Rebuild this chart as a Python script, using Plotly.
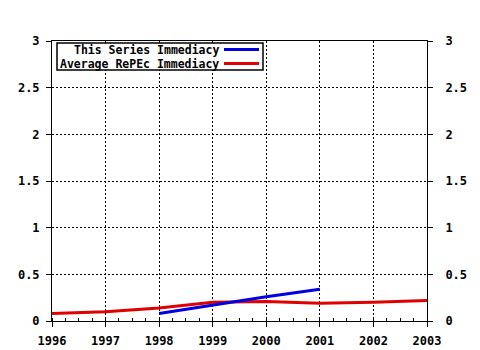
import plotly.graph_objects as go

years = [1996, 1997, 1998, 1999, 2000, 2001, 2002, 2003]
avg_repec = [0.08, 0.10, 0.14, 0.20, 0.21, 0.19, 0.20, 0.22]
series_years = [1998, 1999, 2000, 2001]
series_vals = [0.08, 0.17, 0.26, 0.34]
y_ticks = [0, 0.5, 1, 1.5, 2, 2.5, 3]
y_labels = ["0", "0.5", "1", "1.5", "2", "2.5", "3"]

tfont = dict(family="DejaVu Sans Mono", size=12, color="black", weight="bold")

fig = go.Figure()
fig.add_trace(go.Scatter(x=years, y=avg_repec, mode="lines",
                         line=dict(color="#e00000", width=3), showlegend=False))
fig.add_trace(go.Scatter(x=series_years, y=series_vals, mode="lines",
                         line=dict(color="#0000e0", width=3), showlegend=False))
fig.add_trace(go.Scatter(x=years, y=avg_repec, mode="lines", yaxis="y2",
                         line=dict(color="rgba(0,0,0,0)", width=0),
                         showlegend=False, hoverinfo="skip"))

axis_common = dict(showline=True, linecolor="black", linewidth=1,
                   ticks="outside", ticklen=5, tickcolor="black",
                   tickfont=tfont, zeroline=False, automargin=False)

fig.update_layout(
    width=480, height=350,
    margin=dict(l=52, r=53, t=41, b=29, autoexpand=False),
    paper_bgcolor="white", plot_bgcolor="white",
    font=tfont,
    xaxis=dict(range=[1996, 2003], tickvals=years, ticktext=[str(y) for y in years],
               showgrid=True, gridcolor="black", griddash="2px,2px", gridwidth=1,
               mirror=True, ticklabelstandoff=4,
               minor=dict(dtick=0.25, tick0=1996, ticks="inside", ticklen=3,
                          tickcolor="black", showgrid=False),
               **axis_common),
    yaxis=dict(range=[0, 3], tickvals=y_ticks, ticktext=y_labels,
               showgrid=True, gridcolor="black", griddash="2px,2px", gridwidth=1,
               mirror=True, ticklabelstandoff=4, **axis_common),
    yaxis2=dict(range=[0, 3], tickvals=y_ticks, ticktext=y_labels,
                overlaying="y", side="right", showgrid=False,
                ticklabelstandoff=10, **axis_common),
)

# custom legend (text right-aligned, line sample to the right), paper coordinates
lx0, lx1 = (57 - 52) / 375, (263 - 52) / 375
ly_top, ly_bot = (321 - 43) / 280, (321 - 70) / 280
fig.add_shape(type="rect", xref="paper", yref="paper", x0=lx0, x1=lx1,
              y0=ly_bot, y1=ly_top, line=dict(color="black", width=1.5),
              fillcolor="white", layer="above")
lfont = dict(family="DejaVu Sans Mono", size=11.5, color="black", weight="bold")
entries = [("This Series Immediacy", "#0000e0", 49.5),
           ("Average RePEc Immediacy", "#e00000", 63.5)]
for text, color, ypx in entries:
    yp = (321 - ypx) / 280
    fig.add_annotation(xref="paper", yref="paper", x=(220 - 52) / 375, y=yp,
                       text=text, showarrow=False, xanchor="right", yanchor="middle",
                       font=lfont, borderpad=0)
    fig.add_shape(type="line", xref="paper", yref="paper",
                  x0=(224 - 52) / 375, x1=(259 - 52) / 375, y0=yp, y1=yp,
                  line=dict(color=color, width=3), layer="above")

fig.write_html("out.html")
